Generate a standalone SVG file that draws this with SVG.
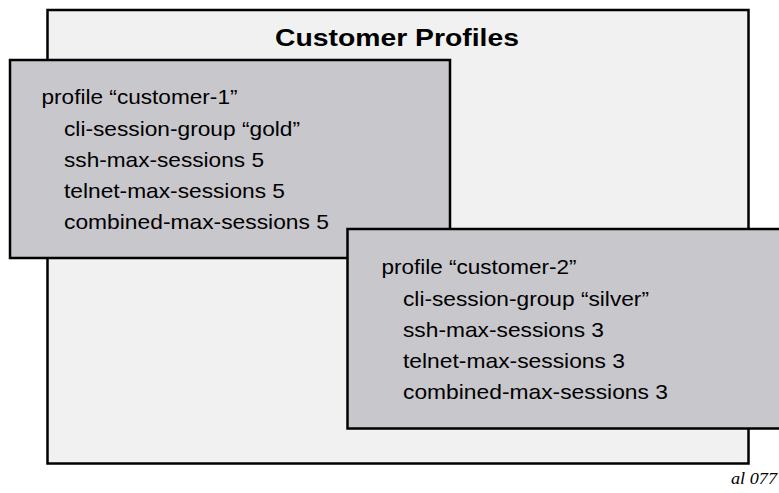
<svg xmlns="http://www.w3.org/2000/svg" width="779" height="493" viewBox="0 0 779 493">
<style>
.box{stroke:#000;stroke-width:2.5}
.outer{fill:#f1f1f1}
.prof{fill:#c8c7cc}
.t{font-family:"Liberation Sans",Arial,sans-serif;font-size:21px;fill:#000}
.title{font-family:"Liberation Sans",Arial,sans-serif;font-size:24.5px;font-weight:bold;fill:#000}
.id{font-family:"Liberation Serif","Times New Roman",serif;font-size:16px;font-style:italic;fill:#000}
</style>
<g id="customer-profiles">
<rect class="box outer" x="47.5" y="10" width="701" height="453.5"/>
<text class="title" x="275" y="46" textLength="244" lengthAdjust="spacingAndGlyphs">Customer Profiles</text>
</g>
<g id="profile-customer-1">
<rect class="box prof" x="10" y="60" width="440" height="198"/>
<text class="t" x="41.5" y="104" textLength="196" lengthAdjust="spacingAndGlyphs">profile “customer-1”</text>
<text class="t" x="64" y="135.5" textLength="236" lengthAdjust="spacingAndGlyphs">cli-session-group “gold”</text>
<text class="t" x="64" y="166.5" textLength="200" lengthAdjust="spacingAndGlyphs">ssh-max-sessions 5</text>
<text class="t" x="64" y="197.5" textLength="221" lengthAdjust="spacingAndGlyphs">telnet-max-sessions 5</text>
<text class="t" x="64" y="228.5" textLength="265" lengthAdjust="spacingAndGlyphs">combined-max-sessions 5</text>
</g>
<g id="profile-customer-2">
<rect class="box prof" x="347.5" y="229" width="440" height="199.5"/>
<text class="t" x="381.5" y="274" textLength="195" lengthAdjust="spacingAndGlyphs">profile “customer-2”</text>
<text class="t" x="403" y="305.5" textLength="246" lengthAdjust="spacingAndGlyphs">cli-session-group “silver”</text>
<text class="t" x="403" y="336.5" textLength="201" lengthAdjust="spacingAndGlyphs">ssh-max-sessions 3</text>
<text class="t" x="403" y="367.5" textLength="222" lengthAdjust="spacingAndGlyphs">telnet-max-sessions 3</text>
<text class="t" x="403" y="399" textLength="265" lengthAdjust="spacingAndGlyphs">combined-max-sessions 3</text>
</g>
<g id="connectors"/>
<text class="id" x="731" y="484" textLength="46" lengthAdjust="spacingAndGlyphs">al 077</text>
</svg>
